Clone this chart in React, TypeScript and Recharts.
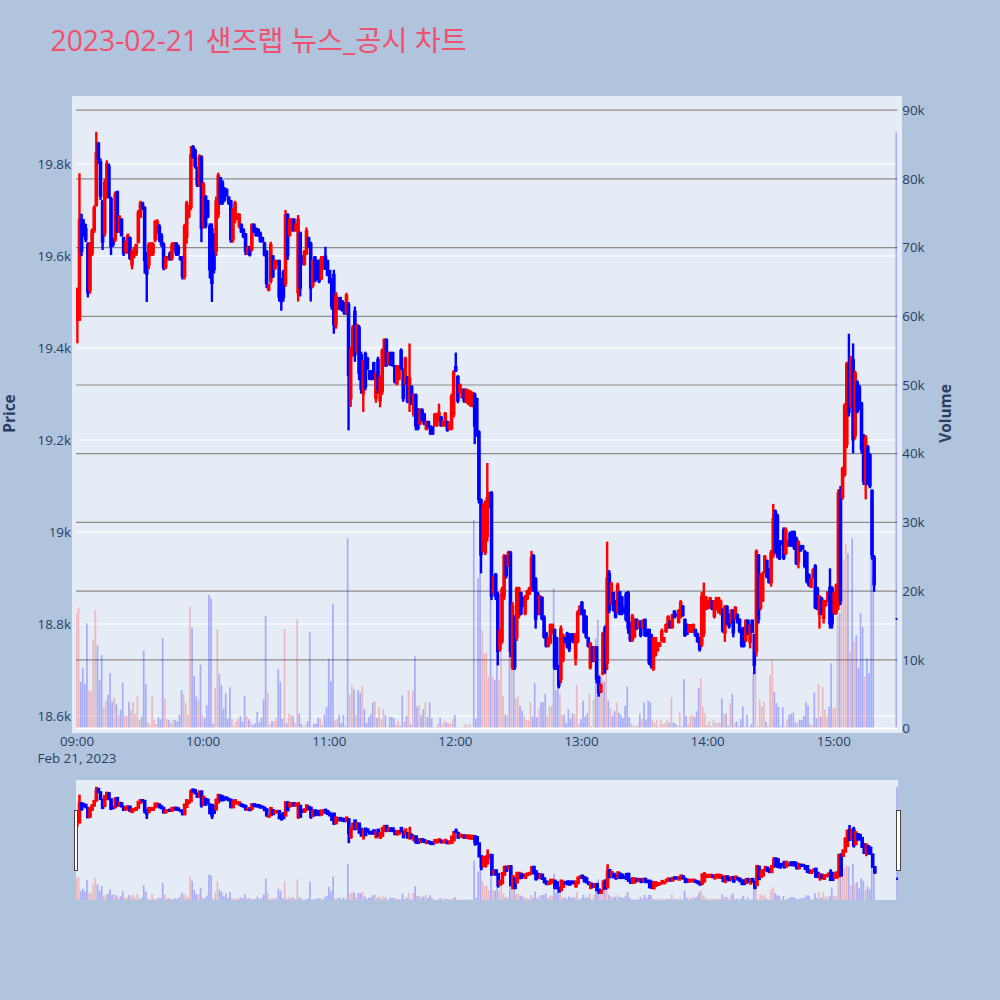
import React from 'react';
import { ComposedChart, Bar, XAxis, YAxis, CartesianGrid, ReferenceLine } from 'recharts';

// 1 minute candles for 2023-02-21, index = minutes since 09:00 (nothing traded 15:20-15:29, last one is the 15:30 close)
const opens = [
  19460,19460,19680,19670,19660,19625,19525,19605,19655,19710,19845,19805,19720,19650,19730,19795,19725,19635,19635,19740,
  19655,19680,19640,19610,19610,19640,19580,19600,19605,19630,19685,19715,19705,19605,19580,19605,19605,19635,19650,19665,
  19645,19625,19575,19592,19605,19595,19615,19628,19620,19598,19595,19555,19640,19685,19705,19838,19830,19790,19755,19815,
  19665,19730,19720,19665,19660,19645,19610,19690,19770,19760,19745,19745,19728,19720,19635,19680,19680,19665,19668,19658,
  19648,19605,19620,19615,19668,19660,19658,19650,19640,19628,19610,19526,19545,19600,19572,19582,19590,19550,19565,19540,
  19690,19645,19655,19680,19655,19520,19650,19600,19582,19605,19640,19628,19535,19598,19590,19590,19550,19572,19600,19590,
  19568,19550,19560,19450,19485,19510,19502,19498,19478,19495,19290,19385,19480,19392,19445,19385,19300,19388,19378,19350,
  19350,19368,19290,19375,19285,19305,19362,19418,19365,19390,19390,19360,19322,19332,19395,19352,19322,19336,19285,19316,
  19255,19298,19265,19235,19265,19256,19223,19240,19230,19228,19231,19231,19243,19250,19231,19231,19240,19223,19225,19255,
  19360,19338,19303,19292,19310,19283,19279,19275,19274,19300,19290,19218,19070,18960,18955,18990,19055,19085,18868,18908,
  18865,18745,18762,18860,18948,18928,18955,18705,18815,18770,18818,18868,18857,18822,18855,18865,18875,18948,18898,18867,
  18822,18858,18815,18780,18752,18760,18780,18788,18770,18708,18680,18720,18770,18780,18778,18778,18778,18725,18762,18822,
  18847,18830,18816,18770,18705,18750,18720,18750,18685,18652,18692,18792,18715,18910,18845,18868,18850,18828,18870,18858,
  18836,18865,18868,18802,18765,18772,18810,18792,18806,18792,18810,18788,18788,18776,18702,18732,18742,18752,18763,18761,
  18783,18792,18806,18792,18828,18822,18803,18815,18839,18810,18799,18783,18783,18782,18788,18779,18770,18755,18780,18832,
  18834,18836,18850,18816,18832,18826,18822,18832,18780,18838,18820,18803,18830,18812,18820,18810,18790,18792,18765,18808,
  18760,18808,18777,18740,18950,18835,18850,18912,18938,18918,18890,18950,19045,19035,18980,18980,19005,18953,18970,18998,
  19000,19000,18986,18935,18970,18970,18958,18955,18907,18880,18901,18926,18878,18820,18856,18812,18840,18850,18880,18878,
  18825,18825,18840,19090,19075,19125,19190,19365,19275,19375,19210,19325,19315,19280,19208,19110,19185,19168,19090,18945,
  18812,
];
const highs = [
  19530,19780,19692,19680,19670,19630,19630,19660,19710,19870,19848,19812,19722,19768,19808,19801,19729,19640,19740,19742,
  19689,19682,19642,19634,19649,19642,19613,19620,19627,19700,19720,19718,19708,19609,19630,19630,19630,19678,19680,19669,
  19650,19630,19600,19600,19610,19630,19630,19630,19625,19600,19600,19670,19720,19711,19839,19841,19834,19794,19821,19819,
  19761,19732,19722,19671,19671,19649,19729,19781,19772,19765,19750,19747,19730,19722,19704,19720,19693,19693,19671,19660,
  19650,19622,19622,19671,19671,19662,19660,19653,19642,19631,19613,19540,19631,19602,19592,19592,19592,19552,19570,19700,
  19693,19682,19682,19682,19671,19689,19653,19602,19613,19662,19642,19631,19592,19600,19592,19592,19600,19600,19620,19592,
  19570,19552,19570,19522,19510,19511,19504,19500,19520,19500,19403,19450,19490,19453,19450,19392,19374,19392,19381,19352,
  19352,19370,19348,19381,19341,19399,19421,19421,19392,19392,19392,19363,19363,19363,19399,19356,19381,19339,19410,19319,
  19301,19301,19269,19269,19269,19259,19242,19242,19232,19230,19259,19259,19279,19252,19242,19261,19242,19240,19301,19352,
  19390,19341,19323,19312,19312,19312,19310,19308,19305,19303,19292,19221,19073,19062,19069,19150,19087,19089,18906,18911,
  18870,18790,18881,18952,18950,18959,18959,18848,18819,18881,18881,18870,18859,18863,18874,18881,18959,18952,18902,18870,
  18863,18860,18819,18783,18772,18801,18801,18790,18772,18711,18797,18779,18772,18783,18780,18780,18780,18780,18830,18841,
  18850,18832,18819,18772,18761,18752,18752,18752,18688,18671,18783,18797,18979,18917,18892,18870,18852,18890,18872,18861,
  18838,18870,18872,18805,18822,18812,18812,18808,18808,18810,18812,18790,18790,18779,18772,18772,18761,18761,18790,18772,
  18801,18819,18808,18822,18830,18823,18832,18852,18841,18812,18801,18800,18800,18801,18790,18781,18772,18870,18890,18861,
  18852,18859,18852,18852,18859,18859,18853,18834,18841,18841,18823,18832,18832,18839,18823,18812,18792,18794,18810,18810,
  18800,18810,18779,18962,18952,18910,18914,18950,18940,18921,18961,19061,19049,19040,18982,18982,19010,19010,18982,19001,
  19003,19003,18990,18982,18972,18972,18961,18957,18910,18900,18921,18930,18881,18863,18859,18853,18852,18872,18921,18882,
  18870,18888,19093,19100,19142,19280,19370,19431,19383,19410,19351,19330,19320,19283,19213,19211,19189,19171,19093,18950,
  18813,
];
const lows = [
  19410,19460,19600,19642,19630,19510,19518,19600,19650,19707,19800,19722,19613,19642,19725,19725,19602,19620,19630,19650,
  19650,19642,19600,19605,19605,19591,19571,19595,19600,19627,19682,19700,19562,19500,19571,19600,19600,19630,19649,19630,
  19620,19569,19571,19590,19590,19590,19612,19600,19600,19590,19549,19549,19627,19682,19700,19812,19790,19750,19750,19630,
  19660,19660,19682,19551,19500,19562,19600,19682,19711,19711,19718,19729,19711,19629,19629,19671,19678,19660,19650,19639,
  19602,19602,19599,19610,19650,19642,19642,19629,19629,19599,19530,19523,19540,19552,19570,19580,19501,19481,19501,19533,
  19591,19642,19653,19653,19653,19501,19512,19580,19579,19602,19617,19501,19531,19543,19548,19541,19548,19570,19570,19556,
  19540,19483,19431,19442,19483,19482,19479,19472,19472,19221,19272,19381,19370,19388,19330,19301,19261,19308,19352,19330,
  19330,19330,19281,19301,19271,19298,19359,19359,19363,19361,19359,19323,19319,19330,19352,19283,19319,19280,19261,19276,
  19250,19221,19221,19232,19240,19232,19221,19225,19211,19211,19229,19229,19240,19229,19229,19229,19218,19221,19221,19249,
  19348,19280,19301,19290,19281,19280,19276,19272,19271,19191,19207,19062,18910,18957,18950,18979,19051,18852,18863,18852,
  18710,18740,18757,18852,18899,18924,18728,18700,18700,18763,18812,18819,18837,18819,18852,18863,18870,18870,18790,18819,
  18819,18808,18768,18749,18749,18756,18778,18700,18700,18660,18671,18717,18758,18747,18739,18761,18758,18710,18758,18819,
  18819,18779,18768,18749,18701,18717,18717,18671,18642,18650,18689,18692,18700,18823,18841,18827,18812,18823,18819,18819,
  18823,18805,18779,18761,18761,18769,18787,18790,18771,18790,18772,18772,18711,18703,18698,18729,18740,18750,18761,18759,
  18781,18790,18790,18790,18812,18816,18801,18812,18816,18772,18776,18781,18781,18780,18772,18759,18740,18750,18772,18830,
  18832,18834,18830,18812,18830,18823,18819,18781,18761,18798,18790,18800,18771,18809,18801,18780,18749,18749,18761,18776,
  18747,18780,18691,18729,18801,18830,18848,18910,18899,18888,18881,18943,18953,18943,18939,18971,18939,18950,18968,18968,
  18968,18961,18928,18921,18957,18961,18921,18888,18881,18878,18899,18832,18830,18790,18819,18801,18838,18848,18790,18790,
  18820,18820,18830,18841,19070,19120,19182,19251,19269,19171,19201,19258,19265,19171,19102,19071,19102,19095,18940,18870,
  18809,
];
const closes = [
  19530,19680,19610,19650,19635,19520,19625,19655,19705,19825,19810,19730,19630,19760,19800,19730,19620,19625,19735,19655,
  19685,19645,19605,19630,19645,19595,19610,19615,19625,19695,19715,19705,19590,19560,19625,19625,19625,19675,19675,19635,
  19625,19575,19595,19598,19595,19625,19628,19605,19605,19592,19555,19665,19715,19705,19820,19815,19795,19755,19815,19660,
  19755,19665,19685,19570,19540,19570,19720,19775,19715,19715,19722,19732,19715,19635,19700,19715,19690,19690,19652,19642,
  19610,19620,19602,19668,19652,19645,19645,19632,19632,19602,19540,19538,19625,19555,19590,19590,19510,19500,19510,19690,
  19600,19680,19680,19655,19670,19680,19530,19582,19610,19655,19620,19530,19590,19545,19550,19545,19595,19598,19572,19558,
  19542,19490,19450,19515,19508,19485,19482,19475,19515,19340,19395,19445,19385,19450,19345,19310,19370,19315,19355,19333,
  19333,19333,19345,19310,19335,19395,19418,19362,19390,19363,19362,19326,19360,19360,19355,19290,19378,19285,19335,19280,
  19298,19230,19225,19265,19243,19235,19240,19228,19213,19213,19256,19256,19260,19231,19240,19258,19221,19238,19295,19348,
  19350,19285,19320,19310,19284,19310,19308,19305,19303,19230,19215,19070,18950,19055,19065,19075,19085,18860,18903,18860,
  18740,18785,18875,18948,18905,18955,18740,18840,18705,18878,18878,18822,18840,18860,18872,18878,18945,18875,18810,18822,
  18860,18812,18772,18752,18770,18798,18798,18705,18705,18665,18790,18776,18760,18750,18745,18763,18760,18778,18825,18838,
  18822,18782,18772,18752,18758,18720,18750,18680,18650,18668,18780,18700,18900,18830,18888,18830,18815,18885,18822,18822,
  18825,18810,18790,18765,18818,18810,18790,18806,18775,18808,18775,18775,18715,18708,18768,18770,18759,18759,18785,18770,
  18799,18816,18792,18820,18814,18817,18830,18848,18818,18775,18778,18798,18798,18799,18774,18762,18745,18860,18860,18858,
  18850,18857,18832,18850,18857,18857,18850,18785,18838,18802,18795,18830,18780,18836,18803,18784,18752,18752,18808,18780,
  18798,18782,18710,18958,18810,18905,18910,18947,18902,18890,18955,19030,18958,18948,18942,18973,18943,19005,18980,18970,
  18970,18965,18932,18978,18959,18963,18925,18892,18884,18898,18918,18836,18834,18860,18822,18850,18850,18870,18800,18800,
  18868,18885,19085,18850,19138,19275,19365,19260,19378,19200,19345,19262,19270,19180,19110,19205,19105,19100,18950,18885,
  18811,
];
const volumes = [
  16800,17650,6800,8800,6500,15300,5600,5400,12900,17200,12100,7000,10700,3050,4100,4900,8050,3900,4550,3600,
  2000,2700,6700,1850,1850,3900,2700,3800,2100,4750,1250,1750,11350,6500,870,580,4650,1250,680,1650,
  1350,13200,4350,1350,1250,780,1250,1250,1050,2000,5600,5050,3700,2050,17750,14600,7650,4650,4150,9300,
  2000,1500,3400,19450,18950,680,5900,14450,7950,6300,2900,5150,1450,6000,1350,390,1020,1450,1850,970,
  4750,1850,1350,1000,490,780,2400,870,1550,4250,16400,5150,580,1070,1070,1550,8650,6800,1450,14450,
  780,2150,1950,1850,780,15900,2150,680,290,580,1070,14000,200,680,680,1550,1450,490,2050,3100,
  10100,6900,18150,1160,1360,2040,780,1990,390,27700,4950,6300,5700,2000,5600,5200,6200,2800,780,1650,
  2100,3800,3900,1550,3100,1350,2900,1950,200,1750,1650,1500,580,1070,390,4850,970,1850,5600,580,
  5500,10500,3200,3400,1950,2800,3800,1650,3800,1450,200,240,780,1550,580,1160,870,780,680,1360,
  1950,200,150,200,150,680,390,680,150,30350,1450,21900,40500,14250,10900,11000,7500,23500,7500,7000,
  11400,7000,13000,4650,2000,1950,11400,9500,8500,4400,4650,3300,2600,1850,1260,1160,3900,1750,6600,1650,
  2950,3800,3800,5050,1850,3200,3300,20400,5600,7100,5000,2000,2000,780,2800,1450,2200,2100,6350,680,
  1350,4050,1750,2200,5050,290,4150,13100,15800,8050,8050,6850,12900,4050,2950,1850,2500,3800,2300,2000,
  1500,3300,6100,1650,680,390,290,530,2150,1350,3800,1260,4050,3800,1260,780,1350,290,1260,680,
  780,1260,870,4550,870,680,390,2300,290,7200,1850,680,1850,2050,1650,2500,5900,7300,3200,2200,
  530,1020,290,1260,870,780,870,4400,2150,2150,390,3700,5050,780,1020,290,1350,3200,290,2000,
  290,580,8100,8950,290,4250,3200,3900,1000,290,7800,9900,5300,3700,3200,290,3100,290,1260,2000,
  2150,2300,870,780,1260,1260,1850,3800,3300,680,530,5250,1500,6500,1750,6000,2700,1850,3200,9500,
  2950,3100,16300,16800,19150,24500,26850,25500,11200,27700,12650,13600,8800,16800,14800,7550,10250,8050,29300,22050,
  86800,
];
const hourTicks = [0, 60, 120, 180, 240, 300, 360];
const hourLabels = ['09:00', '10:00', '11:00', '12:00', '13:00', '14:00', '15:00'];
const priceTicks = [18600, 18800, 19000, 19200, 19400, 19600, 19800];
const volumeTicks = [0, 10000, 20000, 30000, 40000, 50000, 60000, 70000, 80000, 90000];
const volumeGrid = [10000, 20000, 30000, 40000, 50000, 60000, 70000, 80000, 90000];

const chartData = opens.map((open, i) => ({
  minute: i < 380 ? i : 390,
  open,
  high: highs[i],
  low: lows[i],
  close: closes[i],
  volume: volumes[i],
}));

const UP = '#ff0000';
const DOWN = '#0000ff';
const TICK = { fontSize: 13.4, fill: '#2a3f5f' };
const FONT = '"Open Sans", "Noto Sans CJK KR", sans-serif';

const kFormat = (v: number) => (v === 0 ? '0' : `${+(v / 1000).toFixed(1)}k`);

const Candle = (props: any) => {
  const { x, y, width, height, payload, wick, body, pad } = props;
  const { open, high, low, close } = payload;
  const cx = x + width / 2;
  const k = high > low ? height / (high - low) : 0;
  const top = y + (high - Math.max(open, close)) * k;
  const h = Math.abs(open - close) * k;
  const color = close >= open ? UP : DOWN;
  return (
    <g>
      <rect x={cx - wick / 2} y={y} width={wick} height={Math.max(height, 1)} fill={color} />
      <rect x={cx - body / 2} y={top - pad} width={body} height={h + pad * 2} fill={color} />
    </g>
  );
};

const VolumeBar = (props: any) => {
  const { x, y, width, height, payload } = props;
  const up = payload.close >= payload.open;
  return (
    <rect
      x={x + width / 2 - 0.85}
      y={y}
      width={1.7}
      height={height}
      fill={up ? UP : DOWN}
      fillOpacity={up ? 0.22 : 0.27}
    />
  );
};

const Handle = ({ left }: { left: number }) => (
  <div
    style={{
      position: 'absolute',
      left,
      top: 810,
      width: 4.5,
      height: 61,
      boxSizing: 'border-box',
      background: '#fff',
      border: '1px solid #444',
    }}
  />
);

const App = () => (
  <div
    style={{
      position: 'absolute',
      left: 0,
      top: 0,
      width: 1000,
      height: 1000,
      overflow: 'hidden',
      background: '#b0c4de',
      fontFamily: FONT,
    }}
  >
    <div style={{ position: 'absolute', left: 72, top: 96, width: 830, height: 637, background: '#e5ecf6' }} />
    <div style={{ position: 'absolute', left: 76, top: 780, width: 822, height: 120, background: '#e5ecf6' }} />

    <div
      style={{
        position: 'absolute',
        left: 50.5,
        top: 21,
        fontSize: 28.3,
        lineHeight: '38px',
        color: '#f0506e',
        whiteSpace: 'nowrap',
      }}
    >
      2023-02-21 샌즈랩 뉴스_공시 차트
    </div>
    <div
      style={{
        position: 'absolute',
        left: -31,
        top: 403,
        width: 80,
        textAlign: 'center',
        transform: 'rotate(-90deg)',
        fontSize: 15.4,
        fontWeight: 700,
        color: '#2a3f5f',
      }}
    >
      Price
    </div>
    <div
      style={{
        position: 'absolute',
        left: 905,
        top: 403,
        width: 80,
        textAlign: 'center',
        transform: 'rotate(-90deg)',
        fontSize: 15.4,
        fontWeight: 700,
        color: '#2a3f5f',
      }}
    >
      Volume
    </div>
    <div
      style={{
        position: 'absolute',
        left: 17,
        top: 749,
        width: 120,
        textAlign: 'center',
        fontSize: 13.4,
        color: '#2a3f5f',
      }}
    >
      Feb 21, 2023
    </div>

    <div style={{ position: 'absolute', left: 0, top: 0 }}>
      <ComposedChart
        width={1000}
        height={780}
        data={chartData}
        margin={{ top: 96, right: 52.7, bottom: 19, left: 36 }}
      >
        <CartesianGrid
          yAxisId="price"
          vertical={false}
          stroke="#ffffff"
          strokeWidth={1}
          horizontalValues={priceTicks}
        />
        <CartesianGrid
          yAxisId="volume"
          vertical={false}
          stroke="#8c8c8c"
          strokeWidth={1.2}
          horizontalValues={volumeGrid}
        />
        <XAxis
          dataKey="minute"
          type="number"
          domain={[-0.48, 390.2]}
          allowDataOverflow
          ticks={hourTicks}
          interval={0}
          height={30}
          axisLine={false}
          tickLine={false}
          tickSize={0}
          tickMargin={5}
          tick={TICK}
          tickFormatter={(v: number) => hourLabels[hourTicks.indexOf(v)]}
        />
        <YAxis
          yAxisId="price"
          width={40}
          domain={[18567.4, 19947.8]}
          allowDataOverflow
          ticks={priceTicks}
          interval={0}
          axisLine={false}
          tickLine={false}
          tickSize={0}
          tickMargin={5}
          tick={TICK}
          tickFormatter={kFormat}
        />
        <YAxis
          yAxisId="volume"
          orientation="right"
          width={50}
          domain={[-364, 92070]}
          allowDataOverflow
          ticks={volumeTicks}
          interval={0}
          axisLine={false}
          tickLine={false}
          tickSize={0}
          tickMargin={5}
          tick={TICK}
          tickFormatter={kFormat}
        />
        <ReferenceLine yAxisId="volume" y={0} stroke="#ffffff" strokeWidth={2} />
        <Bar yAxisId="volume" dataKey="volume" barSize={2} shape={<VolumeBar />} isAnimationActive={false} />
        <Bar
          yAxisId="price"
          dataKey={(d: any) => [d.low, d.high]}
          barSize={3}
          shape={<Candle wick={2.4} body={3.6} pad={0.5} />}
          isAnimationActive={false}
        />
      </ComposedChart>
    </div>

    <div style={{ position: 'absolute', left: 0, top: 780 }}>
      <ComposedChart
        width={1000}
        height={120}
        data={chartData}
        margin={{ top: 0, right: 102, bottom: 0, left: 76 }}
      >
        <XAxis dataKey="minute" type="number" domain={[-0.48, 390.2]} allowDataOverflow hide />
        <YAxis yAxisId="price" domain={[18567.4, 19947.8]} allowDataOverflow hide />
        <YAxis yAxisId="volume" orientation="right" domain={[0, 92170]} allowDataOverflow hide />
        <Bar yAxisId="volume" dataKey="volume" barSize={2} shape={<VolumeBar />} isAnimationActive={false} />
        <Bar
          yAxisId="price"
          dataKey={(d: any) => [d.low, d.high]}
          barSize={3}
          shape={<Candle wick={2.6} body={3.6} pad={1.2} />}
          isAnimationActive={false}
        />
      </ComposedChart>
    </div>

    <Handle left={73.5} />
    <Handle left={896.3} />
  </div>
);

export default App;
